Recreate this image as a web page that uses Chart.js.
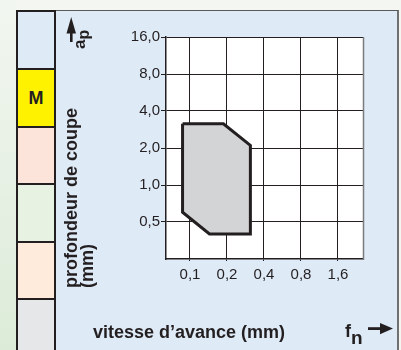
<!DOCTYPE html>
<html lang="fr">
<head>
<meta charset="utf-8">
<title>Profondeur de coupe / vitesse d'avance</title>
<script src="https://cdn.jsdelivr.net/npm/chart.js@4/dist/chart.umd.min.js"></script>
<style>
  html, body { margin: 0; padding: 0; }
  body { width: 401px; height: 350px; overflow: hidden; background: #f3f6f1;
         font-family: "Liberation Sans", Arial, Helvetica, sans-serif; color: #231f20; }
  #stage { position: relative; width: 401px; height: 350px; }
  .edge { position: absolute; left: 0; top: 0; width: 16px; height: 350px;
          background: linear-gradient(#f2f6f0, #dcebd8); }
  .column { position: absolute; left: 16px; top: 10px; width: 36px; height: 345px;
            border: 2px solid #231f20; border-bottom: none; }
  .cell { height: 56px; border-bottom: 2px solid #231f20; box-sizing: content-box;
          display: flex; align-items: center; justify-content: center;
          font-weight: bold; font-size: 18px; }
  .cell.short { height: 55px; }
  .panel { position: absolute; left: 56px; top: 10px; width: 341px; height: 345px;
           background: #dfeaf7; border-top: 1px solid #5a5a5a; border-right: 2px solid #707070; }
  canvas { position: absolute; left: 0; top: 0; }
  .label { position: absolute; font-weight: bold; font-size: 18px; white-space: nowrap; }
  .rot { transform-origin: 0 0; }
  svg { position: absolute; }
</style>
</head>
<body>
<div id="stage">
  <div class="edge"></div>
  <div class="column">
    <div class="cell" style="background:#dfeaf7"></div>
    <div class="cell" style="background:#fff200">M</div>
    <div class="cell short" style="background:#fde4db"></div>
    <div class="cell" style="background:#e7f2e2"></div>
    <div class="cell short" style="background:#feebdc"></div>
    <div class="cell" style="background:#e6e7e9; border-bottom:none; height:60px"></div>
  </div>
  <div class="panel"></div>
  <canvas id="chart" width="401" height="350"></canvas>

  <!-- depth axis symbol -->
  <svg style="left:60px;top:10px" width="24" height="40" viewBox="0 0 24 40">
    <polygon points="11.2,7 6.5,23.5 16,23.5" fill="#231f20"/>
    <rect x="10" y="22" width="2.6" height="10" fill="#231f20"/>
  </svg>
  <div class="label rot" style="font-size:17px;line-height:17px;transform:translate(71px,49px) rotate(-90deg)">a<span style="position:relative;top:4px;font-size:16px">p</span></div>

  <div class="label rot" style="line-height:16px;transform:translate(62.5px,288px) rotate(-90deg)">profondeur de coupe<br>(mm)</div>

  <div class="label" style="left:93px;top:323px;line-height:18px">vitesse d’avance (mm)</div>

  <!-- feed axis symbol -->
  <div class="label" style="left:345px;top:322px;line-height:18px">f<span style="position:relative;top:7px;font-size:19px">n</span></div>
  <svg style="left:366px;top:318px" width="30" height="20" viewBox="0 0 30 20">
    <rect x="2" y="9.2" width="14" height="2.8" fill="#231f20"/>
    <polygon points="27,10.6 14,5 14,16.2" fill="#231f20"/>
  </svg>
</div>

<script>
// Axis ticks (log base 2 spacing)
const depthTicks = [0.5, 1, 2, 4, 8, 16];
const feedTicks = [0.1, 0.2, 0.4, 0.8, 1.6];

// Axis ranges
const depthRange = [0.25, 16];
const feedRange = [0.0638, 2.556];

// Working zone outline: feed (mm) and depth of cut (mm), closed polygon
const feedRate = [0.087, 0.187, 0.31, 0.31, 0.144, 0.087, 0.087];
const cutDepth = [3.15, 3.15, 2.1, 0.4, 0.4, 0.6, 3.15];

const ink = '#231f20';
const tickFont = { family: '"Liberation Sans", Arial, Helvetica, sans-serif', size: 15 };
const commaLabel = v => Number(v).toFixed(1).replace('.', ',');

const plotFrame = {
  id: 'plotFrame',
  beforeDraw(chart) {
    const { ctx, chartArea: a } = chart;
    ctx.save();
    ctx.fillStyle = '#ffffff';
    ctx.fillRect(a.left, a.top, a.right - a.left, a.bottom - a.top);
    ctx.restore();
  },
  afterDraw(chart) {
    const { ctx, chartArea: a } = chart;
    ctx.save();
    ctx.strokeStyle = '#7a7a7a';
    ctx.lineWidth = 1.5;
    ctx.beginPath();
    ctx.moveTo(a.right + 0.5, a.top);
    ctx.lineTo(a.right + 0.5, a.bottom + 1);
    ctx.stroke();
    ctx.restore();
  }
};

new Chart(document.getElementById('chart'), {
  type: 'scatter',
  data: {
    datasets: [{
      data: feedRate.map((x, i) => ({ x, y: cutDepth[i] })),
      showLine: true,
      tension: 0,
      fill: 'shape',
      backgroundColor: '#d3d4d6',
      borderColor: ink,
      borderWidth: 3,
      borderJoinStyle: 'miter',
      pointRadius: 0,
      pointHoverRadius: 0
    }]
  },
  options: {
    responsive: false,
    animation: false,
    events: [],
    layout: { padding: { left: 126, right: 38, top: 37, bottom: 61 } },
    plugins: { legend: { display: false }, tooltip: { enabled: false } },
    scales: {
      x: {
        type: 'logarithmic',
        min: feedRange[0],
        max: feedRange[1],
        afterBuildTicks: s => { s.ticks = feedTicks.map(value => ({ value })); },
        afterFit: s => { s.height = 30; },
        grid: { color: ink, lineWidth: 1, tickLength: 2, drawTicks: true },
        border: { display: true, color: ink, width: 1.5 },
        ticks: { color: ink, font: tickFont, padding: 5, maxRotation: 0, autoSkip: false,
                 callback: v => commaLabel(v) }
      },
      y: {
        type: 'logarithmic',
        min: depthRange[0],
        max: depthRange[1],
        afterBuildTicks: s => { s.ticks = depthTicks.map(value => ({ value })); },
        afterFit: s => { s.width = 40; },
        grid: { color: ink, lineWidth: 1, tickLength: 5, drawTicks: true },
        border: { display: true, color: ink, width: 1.5 },
        ticks: { color: ink, font: tickFont, padding: 1, autoSkip: false,
                 callback: v => commaLabel(v) }
      }
    }
  },
  plugins: [plotFrame]
});
</script>
</body>
</html>
